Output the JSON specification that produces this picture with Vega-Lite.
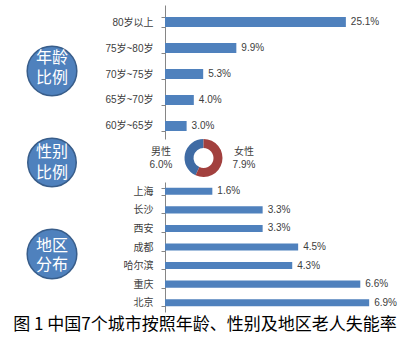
{
  "$schema": "https://vega.github.io/schema/vega-lite/v6.json",
  "padding": 0,
  "background": "white",
  "config": {
    "view": {"stroke": null},
    "font": "Liberation Sans, Noto Sans CJK SC",
    "axis": {
      "domainColor": "#868686",
      "tickColor": "#868686",
      "tickSize": 4,
      "labelColor": "#404040",
      "labelFontSize": 10,
      "labelFont": "Liberation Sans, Noto Sans CJK SC",
      "labelPadding": 8,
      "grid": false
    }
  },
  "datasets": {
    "circA": [{"l1": "年龄", "l2": "比例"}],
    "circB": [{"l1": "性别", "l2": "比例"}],
    "circC": [{"l1": "地区", "l2": "分布"}],
    "age": [
      {"group": "80岁以上", "rate": 0.251},
      {"group": "75岁~80岁", "rate": 0.099},
      {"group": "70岁~75岁", "rate": 0.053},
      {"group": "65岁~70岁", "rate": 0.040},
      {"group": "60岁~65岁", "rate": 0.030}
    ],
    "gender": [
      {"sex": "男性", "rate": 0.060},
      {"sex": "女性", "rate": 0.079}
    ],
    "region": [
      {"city": "上海", "rate": 0.016},
      {"city": "长沙", "rate": 0.033},
      {"city": "西安", "rate": 0.033},
      {"city": "成都", "rate": 0.045},
      {"city": "哈尔滨", "rate": 0.043},
      {"city": "重庆", "rate": 0.066},
      {"city": "北京", "rate": 0.069}
    ]
  },
  "title": {
    "text": "图 1 中国7个城市按照年龄、性别及地区老人失能率",
    "orient": "bottom",
    "anchor": "middle",
    "frame": "bounds",
    "fontSize": 17,
    "font": "Noto Sans CJK SC",
    "fontWeight": "normal",
    "color": "#000000",
    "baseline": "top",
    "offset": 5
  },
  "columns": 2,
  "bounds": "flush",
  "align": {"row": "each", "column": "each"},
  "spacing": {"row": 0, "column": 61},
  "concat": [
    {
      "width": 104, "height": 132,
      "data": {"name": "circA"},
      "layer": [
        {"mark": {"type": "point", "shape": "circle", "filled": true, "size": 2463, "fill": "#4F81BD", "stroke": "#385D8A", "strokeWidth": 1.5, "opacity": 1}, "encoding": {}},
        {"mark": {"type": "text", "fontSize": 16, "font": "Noto Sans CJK SC", "color": "white", "dy": -13}, "encoding": {"text": {"field": "l1"}}},
        {"mark": {"type": "text", "fontSize": 16, "font": "Noto Sans CJK SC", "color": "white", "dy": 7}, "encoding": {"text": {"field": "l2"}}}
      ]
    },
    {
      "width": 245, "height": 134,
      "data": {"name": "age"},
      "encoding": {
        "y": {"field": "group", "type": "nominal", "sort": null, "title": null,
              "scale": {"paddingInner": 0.615, "paddingOuter": 0.385, "align": 0.6},
              "axis": {"tickBand": "extent"}},
        "x": {"field": "rate", "type": "quantitative", "scale": {"domain": [0, 0.34], "nice": false}, "axis": null}
      },
      "layer": [
        {"mark": {"type": "bar", "color": "#4F81BD"}},
        {"mark": {"type": "text", "align": "left", "dx": 5, "fontSize": 10, "font": "Liberation Sans", "color": "#404040"},
         "encoding": {"text": {"field": "rate", "type": "quantitative", "format": ".1%"}}}
      ]
    },
    {
      "width": 104, "height": 43,
      "data": {"name": "circB"},
      "layer": [
        {"mark": {"type": "point", "shape": "circle", "filled": true, "size": 2350, "fill": "#4F81BD", "stroke": "#385D8A", "strokeWidth": 1.5, "opacity": 1, "yOffset": 2}, "encoding": {}},
        {"mark": {"type": "text", "fontSize": 16, "font": "Noto Sans CJK SC", "color": "white", "dy": -9}, "encoding": {"text": {"field": "l1"}}},
        {"mark": {"type": "text", "fontSize": 16, "font": "Noto Sans CJK SC", "color": "white", "dy": 12}, "encoding": {"text": {"field": "l2"}}}
      ]
    },
    {
      "width": 83, "height": 38,
      "data": {"name": "gender"},
      "layer": [
        {"mark": {"type": "arc", "outerRadius": 19, "innerRadius": 10, "xOffset": -3},
         "encoding": {
           "theta": {"field": "rate", "type": "quantitative", "stack": true},
           "color": {"field": "sex", "type": "nominal", "scale": {"domain": ["女性", "男性"], "range": ["#A2403E", "#3F6BA4"]}, "legend": null},
           "order": {"field": "sex", "sort": "ascending"}
         }},
        {"mark": {"type": "text", "dy": -6, "dx": -4, "fontSize": 10, "color": "#404040"},
         "encoding": {
           "x": {"field": "sex", "type": "nominal", "scale": {"type": "point", "domain": ["男性", "女性"], "padding": 0}, "axis": null},
           "text": {"field": "sex"}
         }},
        {"mark": {"type": "text", "dy": 7, "dx": -4, "fontSize": 10, "font": "Liberation Sans", "color": "#404040"},
         "encoding": {
           "x": {"field": "sex", "type": "nominal", "scale": {"type": "point", "domain": ["男性", "女性"], "padding": 0}, "axis": null},
           "text": {"field": "rate", "type": "quantitative", "format": ".1%"}
         }}
      ]
    },
    {
      "width": 104, "height": 130,
      "data": {"name": "circC"},
      "layer": [
        {"mark": {"type": "point", "shape": "circle", "filled": true, "size": 2463, "fill": "#4F81BD", "stroke": "#385D8A", "strokeWidth": 1.5, "opacity": 1, "yOffset": 7}, "encoding": {}},
        {"mark": {"type": "text", "fontSize": 16, "font": "Noto Sans CJK SC", "color": "white", "dy": -1}, "encoding": {"text": {"field": "l1"}}},
        {"mark": {"type": "text", "fontSize": 16, "font": "Noto Sans CJK SC", "color": "white", "dy": 18}, "encoding": {"text": {"field": "l2"}}}
      ]
    },
    {
      "width": 245, "height": 130,
      "data": {"name": "region"},
      "encoding": {
        "y": {"field": "city", "type": "nominal", "sort": null, "title": null,
              "scale": {"paddingInner": 0.62, "paddingOuter": 0.31},
              "axis": {"tickBand": "extent"}},
        "x": {"field": "rate", "type": "quantitative", "scale": {"domain": [0, 0.0828], "nice": false}, "axis": null}
      },
      "layer": [
        {"mark": {"type": "bar", "color": "#4F81BD"}},
        {"mark": {"type": "text", "align": "left", "dx": 5, "fontSize": 10, "font": "Liberation Sans", "color": "#404040"},
         "encoding": {"text": {"field": "rate", "type": "quantitative", "format": ".1%"}}}
      ]
    }
  ]
}
